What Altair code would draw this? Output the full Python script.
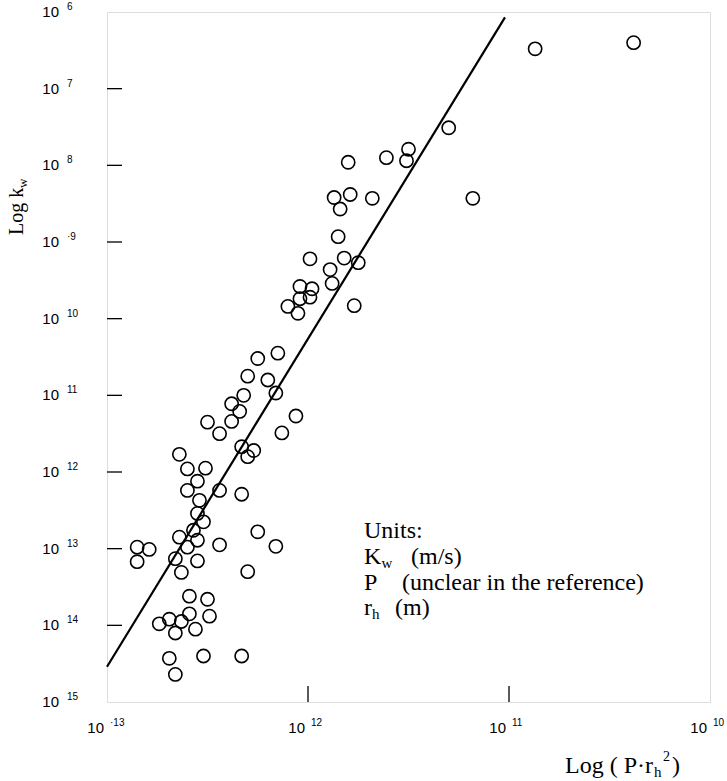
import altair as alt
import numpy as np
import pandas as pd

SANS = "Liberation Sans"
SERIF = "Liberation Serif"
W, H = 603, 690

# Observations, as log10 values of P*rh^2 and k_w
x_log = [-10.38, -10.87, -11.30, -11.50, -11.51, -11.61, -11.80, -11.18, -11.87, -11.79,
         -11.68, -11.84, -11.85, -11.99, -11.82, -11.75, -11.89, -11.88, -12.04, -11.98,
         -11.99, -12.04, -12.10, -12.05, -11.77, -12.25, -12.15, -12.30, -12.20, -12.16,
         -12.32, -12.38, -12.34, -12.38, -12.50, -12.44, -12.06, -12.13, -12.33, -12.27,
         -12.30, -12.64, -12.60, -12.51, -12.55, -12.60, -12.54, -12.44, -12.33, -12.55,
         -12.52, -12.57, -12.25, -12.64, -12.55, -12.60, -12.44, -12.16, -12.85, -12.79,
         -12.85, -12.66, -12.55, -12.63, -12.30, -12.59, -12.50, -12.59, -12.49, -12.74,
         -12.69, -12.63, -12.66, -12.56, -12.69, -12.66, -12.52, -12.33]
y_log = [-6.40, -6.48, -7.51, -7.79, -7.94, -7.90, -7.96, -8.43, -8.42, -8.38,
         -8.43, -8.57, -8.93, -9.22, -9.21, -9.27, -9.36, -9.54, -9.58, -9.61,
         -9.72, -9.74, -9.84, -9.93, -9.83, -10.52, -10.45, -10.75, -10.80, -10.97,
         -11.00, -11.11, -11.21, -11.34, -11.35, -11.50, -11.27, -11.49, -11.67, -11.72,
         -11.80, -11.77, -11.96, -11.95, -12.12, -12.24, -12.37, -12.24, -12.29, -12.54,
         -12.65, -12.76, -12.78, -12.85, -12.89, -12.98, -12.95, -12.97, -12.98, -13.01,
         -13.17, -13.13, -13.16, -13.31, -13.30, -13.62, -13.66, -13.85, -13.88, -13.98,
         -13.92, -13.95, -14.10, -14.05, -14.43, -14.64, -14.40, -14.40]

# Fitted relation (log10 end points)
fit_x_log = [-13.0, -11.02]
fit_y_log = [-14.54, -6.07]

# Decade tick values and the exponent text printed beside them
y_decades = [1e-6, 1e-7, 1e-8, 1e-9, 1e-10, 1e-11, 1e-12, 1e-13, 1e-14, 1e-15]
y_exp_text = ["6", "7", "8", "·9", "10", "11", "12", "13", "14", "15"]
x_decades = [1e-13, 1e-12, 1e-11, 1e-10]
x_exp_text = ["·13", "12", "11", "10"]

pts = pd.DataFrame({"x": 10 ** np.array(x_log), "y": 10 ** np.array(y_log)})
fit = pd.DataFrame({"x": 10 ** np.array(fit_x_log), "y": 10 ** np.array(fit_y_log)})
ylab = pd.DataFrame({"v": y_decades, "e": y_exp_text})
xlab = pd.DataFrame({"v": x_decades, "e": x_exp_text})
one = pd.DataFrame({"a": [0]})

xs = alt.Scale(type="log", domain=[1e-13, 1e-10], nice=False)
ys = alt.Scale(type="log", domain=[1e-15, 1e-6], nice=False)
X = lambda f: alt.X(f, type="quantitative", scale=xs, axis=None)
Y = lambda f: alt.Y(f, type="quantitative", scale=ys, axis=None)

points = alt.Chart(pts).mark_point(
    shape="circle", filled=False, size=175, strokeWidth=1.6, color="black", opacity=1
).encode(x=X("x"), y=Y("y"))

fit_line = alt.Chart(fit).mark_line(color="black", strokeWidth=2.2).encode(x=X("x"), y=Y("y"))

# inward tick marks
ytick = alt.Chart(ylab[(ylab.v < 1e-6) & (ylab.v > 1e-15)]).mark_rule(
    color="black", strokeWidth=1.3
).encode(y=Y("v"), x=alt.value(0), x2=alt.value(15))
xtick = alt.Chart(xlab[(xlab.v > 1e-13) & (xlab.v < 1e-10)]).mark_rule(
    color="black", strokeWidth=1.3
).encode(x=X("v"), y=alt.value(H), y2=alt.value(H - 16))

# "10" with raised exponent
y_base = alt.Chart(ylab).mark_text(
    text="10", font=SANS, fontSize=15, align="right", baseline="middle", color="black"
).encode(y=Y("v"), x=alt.value(-48))
y_sup = alt.Chart(ylab).mark_text(
    font=SANS, fontSize=10, align="left", baseline="middle", dy=-5, color="black"
).encode(y=Y("v"), x=alt.value(-40), text="e:N")
x_base = alt.Chart(xlab).mark_text(
    text="10", font=SANS, fontSize=15, align="right", baseline="middle", dx=-3, color="black"
).encode(x=X("v"), y=alt.value(716))
x_sup = alt.Chart(xlab).mark_text(
    font=SANS, fontSize=10, align="left", baseline="middle", dx=3, dy=-5, color="black"
).encode(x=X("v"), y=alt.value(716), text="e:N")


def txt(s, x, y, size, angle=0, align="left"):
    kw = dict(text=s, font=SERIF, fontSize=size, align=align, baseline="alphabetic", color="black")
    if angle:
        kw["angle"] = angle
    return alt.Chart(one).mark_text(**kw).encode(x=alt.value(x), y=alt.value(y))


# axis titles
y_title = txt("Log k", -84, 223, 20, angle=270) + txt("w", -80, 176, 13, angle=270)
tx = 458
x_title = (txt("Log ( P·r", tx, 761, 24) + txt("h", tx + 89, 765, 15)
           + txt("2", tx + 98, 749, 14) + txt(")", tx + 107, 761, 24))

# units note
ux = 257
units = (
    txt("Units:", ux, 526, 24)
    + txt("K", ux, 552, 24) + txt("w", ux + 17.5, 556, 15) + txt("(m/s)", ux + 47, 552, 24)
    + txt("P", ux, 578, 24) + txt("(unclear in the reference)", ux + 38, 578, 24)
    + txt("r", ux, 603, 24) + txt("h", ux + 8, 607, 15) + txt("(m)", ux + 31, 603, 24)
)

chart = alt.layer(
    ytick, xtick, fit_line, points, y_base, y_sup, x_base, x_sup, y_title, x_title, units
).properties(
    width=W, height=H,
    autosize=alt.AutoSizeParams(type="none"),
    padding={"left": 107, "top": 12, "right": 17, "bottom": 79},
).configure_view(
    stroke="black", strokeWidth=1.5
).configure(background="white")

chart.save("out.html", embed_options={"renderer": "svg", "actions": False})
